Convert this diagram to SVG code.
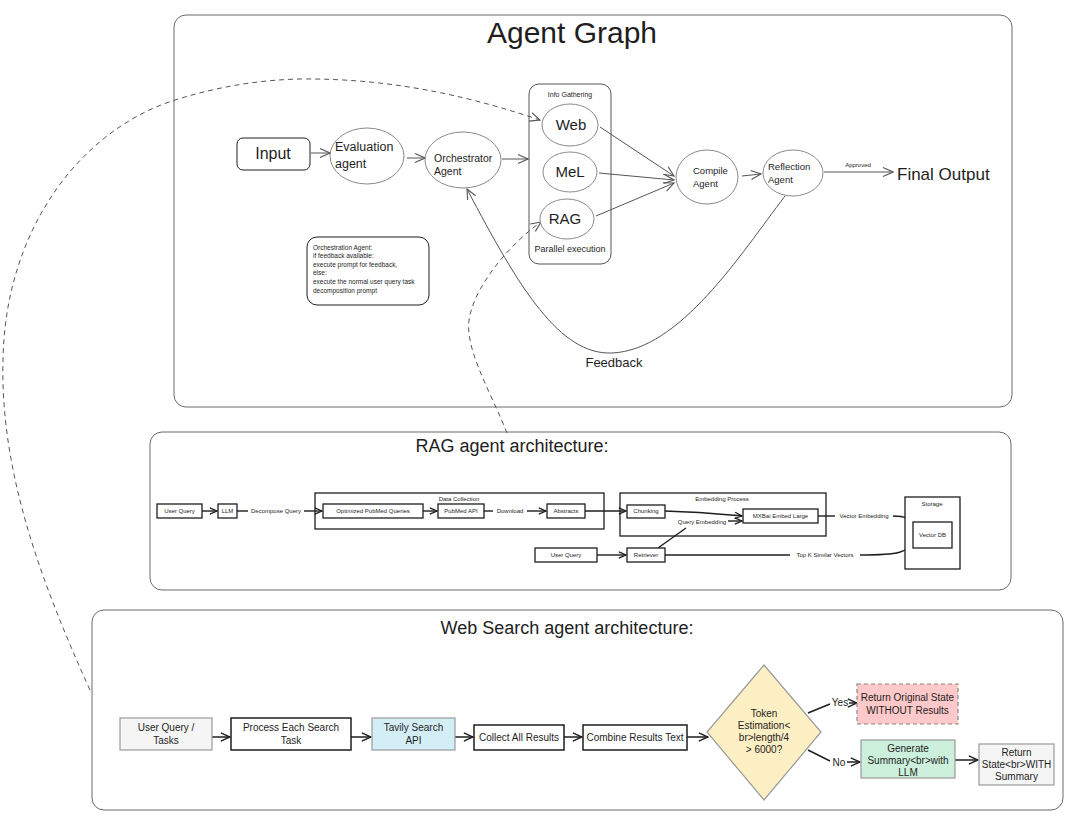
<svg xmlns="http://www.w3.org/2000/svg" width="1074" height="837" viewBox="0 0 1074 837">
<style>
text{font-family:"Liberation Sans",Arial,sans-serif;fill:#1e1e1e}
.frame{fill:none;stroke:#6b6b6b;stroke-width:1}
.ell{fill:#fff;stroke:#8a8a8a;stroke-width:1}
.gl{fill:none;stroke:#555;stroke-width:1}
.dash{fill:none;stroke:#555;stroke-width:1;stroke-dasharray:5 4}
.rb{fill:#fff;stroke:#1e1e1e;stroke-width:1.3}
.rl{fill:none;stroke:#1e1e1e;stroke-width:1.4}
.wb{stroke:#1e1e1e;stroke-width:1.5}
.wl{fill:none;stroke:#1e1e1e;stroke-width:1.5}
.t6{font-size:6px}
.t10{font-size:10px}
</style>
<defs>
<marker id="ag" viewBox="0 0 12 12" refX="11" refY="6" markerWidth="12" markerHeight="12" orient="auto" markerUnits="userSpaceOnUse"><path d="M1,1.5 L11,6 L1,10.5" fill="none" stroke="#555" stroke-width="1.1"/></marker>
<marker id="ar" viewBox="0 0 10 10" refX="9" refY="5" markerWidth="9" markerHeight="9" orient="auto" markerUnits="userSpaceOnUse"><path d="M1,1.5 L9,5 L1,8.5" fill="none" stroke="#1e1e1e" stroke-width="1.4"/></marker>
<marker id="aw" viewBox="0 0 12 12" refX="11" refY="6" markerWidth="11" markerHeight="11" orient="auto" markerUnits="userSpaceOnUse"><path d="M1,1.5 L11,6 L1,10.5" fill="none" stroke="#1e1e1e" stroke-width="1.5"/></marker>
</defs>

<g id="frames">
<rect class="frame" x="174" y="15" width="838" height="392" rx="12"/>
<text x="572" y="43" font-size="30" text-anchor="middle">Agent Graph</text>
<rect class="frame" x="150" y="432" width="861" height="158" rx="12"/>
<text x="512" y="452" font-size="18" text-anchor="middle">RAG agent architecture:</text>
<rect class="frame" x="92" y="610" width="971" height="200" rx="12"/>
<text x="567" y="634" font-size="18" text-anchor="middle">Web Search agent architecture:</text>
</g>

<g id="connectors">
<line class="gl" x1="311" y1="153" x2="330" y2="153" marker-end="url(#ag)"/>
<line class="gl" x1="407" y1="158" x2="425" y2="158" marker-end="url(#ag)"/>
<line class="gl" x1="502" y1="159" x2="528" y2="159" marker-end="url(#ag)"/>
<line class="gl" x1="600" y1="127" x2="674" y2="176" marker-end="url(#ag)"/>
<line class="gl" x1="599" y1="173" x2="674" y2="180" marker-end="url(#ag)"/>
<line class="gl" x1="596" y1="216" x2="674" y2="183" marker-end="url(#ag)"/>
<line class="gl" x1="742" y1="176" x2="761" y2="174" marker-end="url(#ag)"/>
<line class="gl" x1="824" y1="172" x2="893" y2="172" marker-end="url(#ag)"/>
<text x="858" y="167" font-size="6" text-anchor="middle">Approved</text>
<path class="gl" d="M785 196 C740 255,680 350,612 353 C560 355,520 290,467 189" marker-end="url(#ag)"/>
<text x="614" y="367" font-size="13" text-anchor="middle">Feedback</text>
<path class="dash" d="M90 690 C40 580,0 470,3 360 C5 230,80 130,175 100 C220 86,260 80,300 79 C400 78,480 100,540 120" marker-end="url(#ag)"/>
<path class="dash" d="M507 433 C490 390,462 345,470 315 C478 280,515 240,541 222" marker-end="url(#ag)"/>

<line class="rl" x1="202" y1="511" x2="217" y2="511" marker-end="url(#ar)"/>
<line class="rl" x1="237" y1="511" x2="248" y2="511"/>
<text x="276" y="513" class="t6" text-anchor="middle">Decompose Query</text>
<line class="rl" x1="304" y1="511" x2="322" y2="511" marker-end="url(#ar)"/>
<line class="rl" x1="423" y1="511" x2="437" y2="511" marker-end="url(#ar)"/>
<line class="rl" x1="484" y1="511" x2="493" y2="511"/>
<text x="510" y="513" class="t6" text-anchor="middle">Download</text>
<line class="rl" x1="527" y1="511" x2="546" y2="511" marker-end="url(#ar)"/>
<line class="rl" x1="585" y1="511" x2="626" y2="511" marker-end="url(#ar)"/>
<path class="rl" d="M665 511 C700 512,720 514,742 516" marker-end="url(#ar)"/>
<line class="rl" x1="658" y1="548" x2="686" y2="528"/>
<text x="702" y="524" class="t6" text-anchor="middle">Query Embedding</text>
<line class="rl" x1="728" y1="521" x2="742" y2="521" marker-end="url(#ar)"/>
<line class="rl" x1="818" y1="516" x2="835" y2="516"/>
<text x="864" y="518" class="t6" text-anchor="middle">Vector Embedding</text>
<path class="rl" d="M893 516 C905 516,910 518,912 526" marker-end="url(#ar)"/>
<line class="rl" x1="597" y1="555" x2="626" y2="555" marker-end="url(#ar)"/>
<line class="rl" x1="665" y1="555" x2="790" y2="555"/>
<text x="825" y="557" class="t6" text-anchor="middle">Top K Similar Vectors</text>
<path class="rl" d="M860 555 C900 555,908 552,912 542" marker-end="url(#ar)"/>

<line class="wl" x1="212" y1="737" x2="230" y2="737" marker-end="url(#aw)"/>
<line class="wl" x1="351" y1="737" x2="371" y2="737" marker-end="url(#aw)"/>
<line class="wl" x1="455" y1="737" x2="473" y2="737" marker-end="url(#aw)"/>
<line class="wl" x1="564" y1="737" x2="582" y2="737" marker-end="url(#aw)"/>
<line class="wl" x1="687" y1="737" x2="708" y2="737" marker-end="url(#aw)"/>
<line class="wl" x1="808" y1="713" x2="830" y2="704"/>
<text x="840" y="706" class="t10" text-anchor="middle">Yes</text>
<line class="wl" x1="849" y1="703" x2="857" y2="703" marker-end="url(#aw)"/>
<line class="wl" x1="808" y1="750" x2="830" y2="761"/>
<text x="839" y="766" class="t10" text-anchor="middle">No</text>
<line class="wl" x1="847" y1="762" x2="860" y2="762" marker-end="url(#aw)"/>
<line class="wl" x1="955" y1="760" x2="978" y2="760" marker-end="url(#aw)"/>
</g>

<g id="input"><rect x="237" y="138" width="73" height="32" rx="6" fill="#fff" stroke="#1e1e1e" stroke-width="1"/><text x="273" y="159" font-size="16" text-anchor="middle">Input</text></g>
<g id="evaluation"><ellipse class="ell" cx="367" cy="156" rx="37" ry="28"/><text x="335" y="151" font-size="12.5">Evaluation</text><text x="335" y="168" font-size="12.5">agent</text></g>
<g id="orchestrator"><ellipse class="ell" cx="463" cy="160" rx="38" ry="28"/><text x="434" y="162" font-size="10.5">Orchestrator</text><text x="434" y="175" font-size="10.5">Agent</text></g>
<g id="info-gathering"><rect x="529" y="84" width="82" height="180" rx="10" fill="none" stroke="#555" stroke-width="1"/><text x="570" y="97" font-size="7" text-anchor="middle">Info Gathering</text><text x="570" y="252" font-size="9" text-anchor="middle">Parallel execution</text></g>
<g id="web"><ellipse class="ell" cx="570" cy="125" rx="28" ry="21"/><text x="571" y="130" font-size="15" text-anchor="middle">Web</text></g>
<g id="mel"><ellipse class="ell" cx="570" cy="172" rx="27" ry="20"/><text x="570" y="177" font-size="15" text-anchor="middle">MeL</text></g>
<g id="rag"><ellipse class="ell" cx="567" cy="219" rx="27" ry="20"/><text x="565" y="224" font-size="15" text-anchor="middle">RAG</text></g>
<g id="compile"><ellipse class="ell" cx="707" cy="177" rx="31" ry="27"/><text x="693" y="174" font-size="9.5">Compile</text><text x="693" y="187" font-size="9.5">Agent</text></g>
<g id="reflection"><ellipse class="ell" cx="793" cy="173" rx="30" ry="23"/><text x="768" y="170" font-size="9.5">Reflection</text><text x="768" y="183" font-size="9.5">Agent</text></g>
<g id="final-output"><text x="897" y="180" font-size="17">Final Output</text></g>
<g id="note"><rect x="307" y="237" width="122" height="68" rx="10" fill="#fff" stroke="#1e1e1e" stroke-width="1"/>
<text font-size="6.5"><tspan x="313" y="250">Orchestration Agent:</tspan><tspan x="313" y="258">if feedback available:</tspan><tspan x="313" y="267">execute prompt for feedback,</tspan><tspan x="313" y="275">else:</tspan><tspan x="313" y="284">execute the normal user query task</tspan><tspan x="313" y="293">decomposition prompt</tspan></text></g>

<g id="rag-user-query"><rect class="rb" x="157" y="504" width="45" height="14"/><text x="179.5" y="513" class="t6" text-anchor="middle">User Query</text></g>
<g id="rag-llm"><rect class="rb" x="218" y="504" width="19" height="14"/><text x="227.5" y="513" class="t6" text-anchor="middle">LLM</text></g>
<g id="data-collection"><rect x="315" y="493" width="289" height="36" fill="none" stroke="#1e1e1e" stroke-width="1.3"/><text x="459" y="501" class="t6" text-anchor="middle">Data Collection</text></g>
<g id="pubmed-queries"><rect class="rb" x="323" y="504" width="100" height="14"/><text x="373" y="513" class="t6" text-anchor="middle">Optimized PubMed Queries</text></g>
<g id="pubmed-api"><rect class="rb" x="438" y="504" width="46" height="14"/><text x="461" y="513" class="t6" text-anchor="middle">PubMed API</text></g>
<g id="abstracts"><rect class="rb" x="547" y="504" width="38" height="14"/><text x="566" y="513" class="t6" text-anchor="middle">Abstracts</text></g>
<g id="embedding-process"><rect x="620" y="493" width="206" height="43" fill="none" stroke="#1e1e1e" stroke-width="1.3"/><text x="722" y="501" class="t6" text-anchor="middle">Embedding Process</text></g>
<g id="chunking"><rect class="rb" x="627" y="505" width="38" height="13"/><text x="646" y="513" class="t6" text-anchor="middle">Chunking</text></g>
<g id="mxbai"><rect class="rb" x="743" y="509" width="75" height="14"/><text x="780.5" y="518" class="t6" text-anchor="middle">MXBai Embed Large</text></g>
<g id="rag-user-query-2"><rect class="rb" x="535" y="548" width="62" height="14"/><text x="566" y="557" class="t6" text-anchor="middle">User Query</text></g>
<g id="retriever"><rect class="rb" x="627" y="548" width="38" height="14"/><text x="646" y="557" class="t6" text-anchor="middle">Retriever</text></g>
<g id="storage"><rect x="905" y="497" width="55" height="72" fill="#fff" stroke="#1e1e1e" stroke-width="1.3"/><text x="932" y="506" class="t6" text-anchor="middle">Storage</text></g>
<g id="vector-db"><rect class="rb" x="913" y="522" width="39" height="26"/><text x="932.5" y="537" class="t6" text-anchor="middle">Vector DB</text></g>

<g id="ws-user-query"><rect x="120" y="718" width="92" height="32" fill="#f5f5f5" stroke="#9a9a9a" stroke-width="1.2"/><text x="166" y="731" class="t10" text-anchor="middle" fill="#444">User Query /</text><text x="166" y="744" class="t10" text-anchor="middle" fill="#444">Tasks</text></g>
<g id="ws-process"><rect class="wb" x="231" y="718" width="120" height="32" fill="#fff"/><text x="291" y="731" class="t10" text-anchor="middle">Process Each Search</text><text x="291" y="744" class="t10" text-anchor="middle">Task</text></g>
<g id="ws-tavily"><rect x="372" y="718" width="83" height="32" fill="#d4eef8" stroke="#9a9a9a" stroke-width="1.2"/><text x="413.5" y="731" class="t10" text-anchor="middle" fill="#444">Tavily Search</text><text x="413.5" y="744" class="t10" text-anchor="middle" fill="#444">API</text></g>
<g id="ws-collect"><rect class="wb" x="474" y="725" width="90" height="25" fill="#fff"/><text x="519" y="741" class="t10" text-anchor="middle">Collect All Results</text></g>
<g id="ws-combine"><rect class="wb" x="583" y="725" width="104" height="25" fill="#fff"/><text x="635" y="741" class="t10" text-anchor="middle">Combine Results Text</text></g>
<g id="ws-token"><polygon points="764,665 821,732 764,800 707,732" fill="#fdefc4" stroke="#9a9a9a" stroke-width="1.2"/><text x="764" y="717" class="t10" text-anchor="middle">Token</text><text x="764" y="729" class="t10" text-anchor="middle">Estimation&lt;</text><text x="764" y="741" class="t10" text-anchor="middle">br&gt;length/4</text><text x="764" y="753" class="t10" text-anchor="middle">&gt; 6000?</text></g>
<g id="ws-return-original"><rect x="857" y="684" width="101" height="40" fill="#ffc9c9" stroke="#888" stroke-width="1.2" stroke-dasharray="4 3"/><text x="907.5" y="701" class="t10" text-anchor="middle">Return Original State</text><text x="907.5" y="714" class="t10" text-anchor="middle">WITHOUT Results</text></g>
<g id="ws-generate"><rect x="861" y="740" width="94" height="38" fill="#cdf0dc" stroke="#9a9a9a" stroke-width="1.2"/><text x="908" y="752" class="t10" text-anchor="middle">Generate</text><text x="908" y="764" class="t10" text-anchor="middle">Summary&lt;br&gt;with</text><text x="908" y="776" class="t10" text-anchor="middle">LLM</text></g>
<g id="ws-return-with"><rect x="979" y="744" width="75" height="41" fill="#f5f5f5" stroke="#9a9a9a" stroke-width="1.2"/><text x="1016.5" y="756" class="t10" text-anchor="middle">Return</text><text x="1016.5" y="768" class="t10" text-anchor="middle">State&lt;br&gt;WITH</text><text x="1016.5" y="780" class="t10" text-anchor="middle">Summary</text></g>
</svg>
